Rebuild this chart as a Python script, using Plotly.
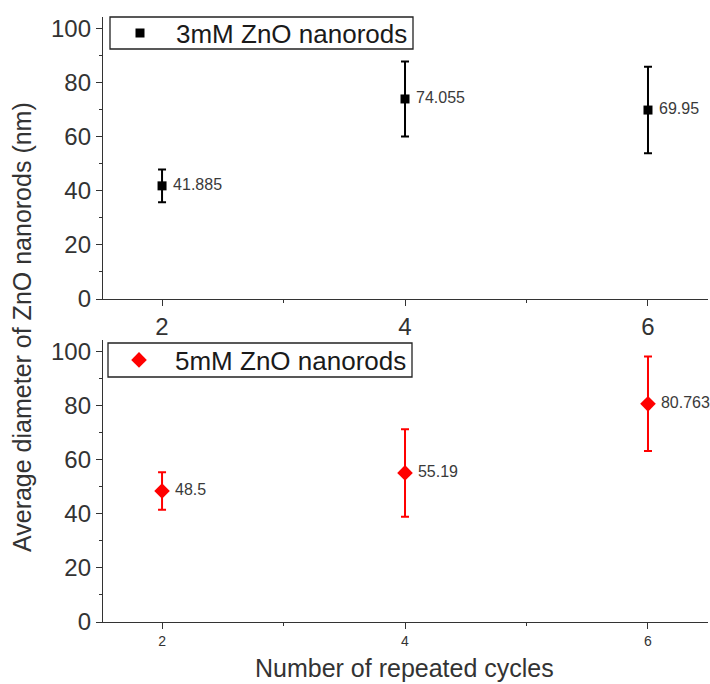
import plotly.graph_objects as go

# ---- data ----
cycles = [2, 4, 6]
d3_mean = [41.885, 74.055, 69.95]
d3_err = [6.1, 13.9, 16.0]
d3_labels = ["41.885", "74.055", "69.95"]
d5_mean = [48.5, 55.19, 80.763]
d5_err = [6.9, 16.2, 17.5]
d5_labels = ["48.5", "55.19", "80.763"]
y_ticks = [0, 20, 40, 60, 80, 100]
x_ticks = [2, 4, 6]

FONT = "Liberation Sans, Arial, sans-serif"
AX = "#333333"

fig = go.Figure()
fig.add_trace(go.Scatter(
    x=cycles, y=d3_mean, mode="markers+text", name="3mM ZnO nanorods",
    text=[" " + t for t in d3_labels], textposition="middle right",
    textfont=dict(family=FONT, size=16, color="#3a3a3a"),
    marker=dict(symbol="square", size=9, color="black"),
    error_y=dict(type="data", array=d3_err, visible=True, color="black", thickness=2, width=4),
    cliponaxis=False, xaxis="x", yaxis="y", legend="legend",
))
fig.add_trace(go.Scatter(
    x=cycles, y=d5_mean, mode="markers+text", name="5mM ZnO nanorods",
    text=[" " + t for t in d5_labels], textposition="middle right",
    textfont=dict(family=FONT, size=16, color="#3a3a3a"),
    marker=dict(symbol="diamond", size=12, color="red"),
    error_y=dict(type="data", array=d5_err, visible=True, color="red", thickness=2, width=4),
    cliponaxis=False, xaxis="x2", yaxis="y2", legend="legend2",
))

common_x = dict(range=[1.514, 6.494], tickvals=x_ticks, ticks="outside", ticklen=6,
                tickwidth=1.3, tickcolor=AX, showline=True, linecolor=AX, linewidth=1.3,
                showgrid=False, zeroline=False,
                minor=dict(dtick=1, tick0=0, ticks="outside", ticklen=3, tickcolor=AX, tickwidth=1.3))
common_y = dict(range=[0, 104.4], tickvals=y_ticks, ticks="outside", ticklen=6,
                tickwidth=1.3, tickcolor=AX, showline=True, linecolor=AX, linewidth=1.3,
                showgrid=False, zeroline=False,
                tickfont=dict(family=FONT, size=24, color="#333333"),
                minor=dict(dtick=10, tick0=0, ticks="outside", ticklen=3, tickcolor=AX, tickwidth=1.3))

def px_x(p):
    return (p - 103) / 605

def px_y(p):
    return (622 - p) / 605

legend_style = dict(xanchor="left", yanchor="middle", bgcolor="rgba(0,0,0,0)", borderwidth=0,
                    itemwidth=62, font=dict(family=FONT, size=26, color="#1a1a1a"))

fig.update_layout(
    width=710, height=684,
    margin=dict(l=103, r=2, t=17, b=62),
    plot_bgcolor="white", paper_bgcolor="white",
    font=dict(family=FONT, color="#333333"),
    showlegend=True,
    xaxis=dict(**common_x, anchor="y", domain=[0, 1],
               tickfont=dict(family=FONT, size=24, color="#333333")),
    yaxis=dict(**common_y, anchor="x", domain=[px_y(299), 1]),
    xaxis2=dict(**common_x, anchor="y2", domain=[0, 1],
                tickfont=dict(family=FONT, size=14, color="#333333")),
    yaxis2=dict(**common_y, anchor="x2", domain=[0, px_y(340)]),
    legend=dict(x=px_x(104), y=px_y(33), **legend_style),
    legend2=dict(x=px_x(103), y=px_y(360), **legend_style),
    shapes=[
        dict(type="rect", xref="paper", yref="paper", x0=px_x(110), x1=px_x(413),
             y0=px_y(49), y1=px_y(17), line=dict(color="#222222", width=1.3),
             fillcolor="white", layer="below"),
        dict(type="rect", xref="paper", yref="paper", x0=px_x(108), x1=px_x(412),
             y0=px_y(377), y1=px_y(343), line=dict(color="#222222", width=1.3),
             fillcolor="white", layer="below"),
    ],
    annotations=[
        dict(text="Average diameter of ZnO nanorods (nm)", textangle=-90,
             xref="paper", yref="paper", x=px_x(22), y=px_y(327), xanchor="center", yanchor="middle",
             showarrow=False, font=dict(family=FONT, size=25, color="#333333")),
        dict(text="Number of repeated cycles",
             xref="paper", yref="paper", x=px_x(404), y=px_y(668), xanchor="center", yanchor="middle",
             showarrow=False, font=dict(family=FONT, size=25, color="#333333")),
    ],
    hovermode=False,
)

fig.write_html("out.html", config={"displayModeBar": False})
